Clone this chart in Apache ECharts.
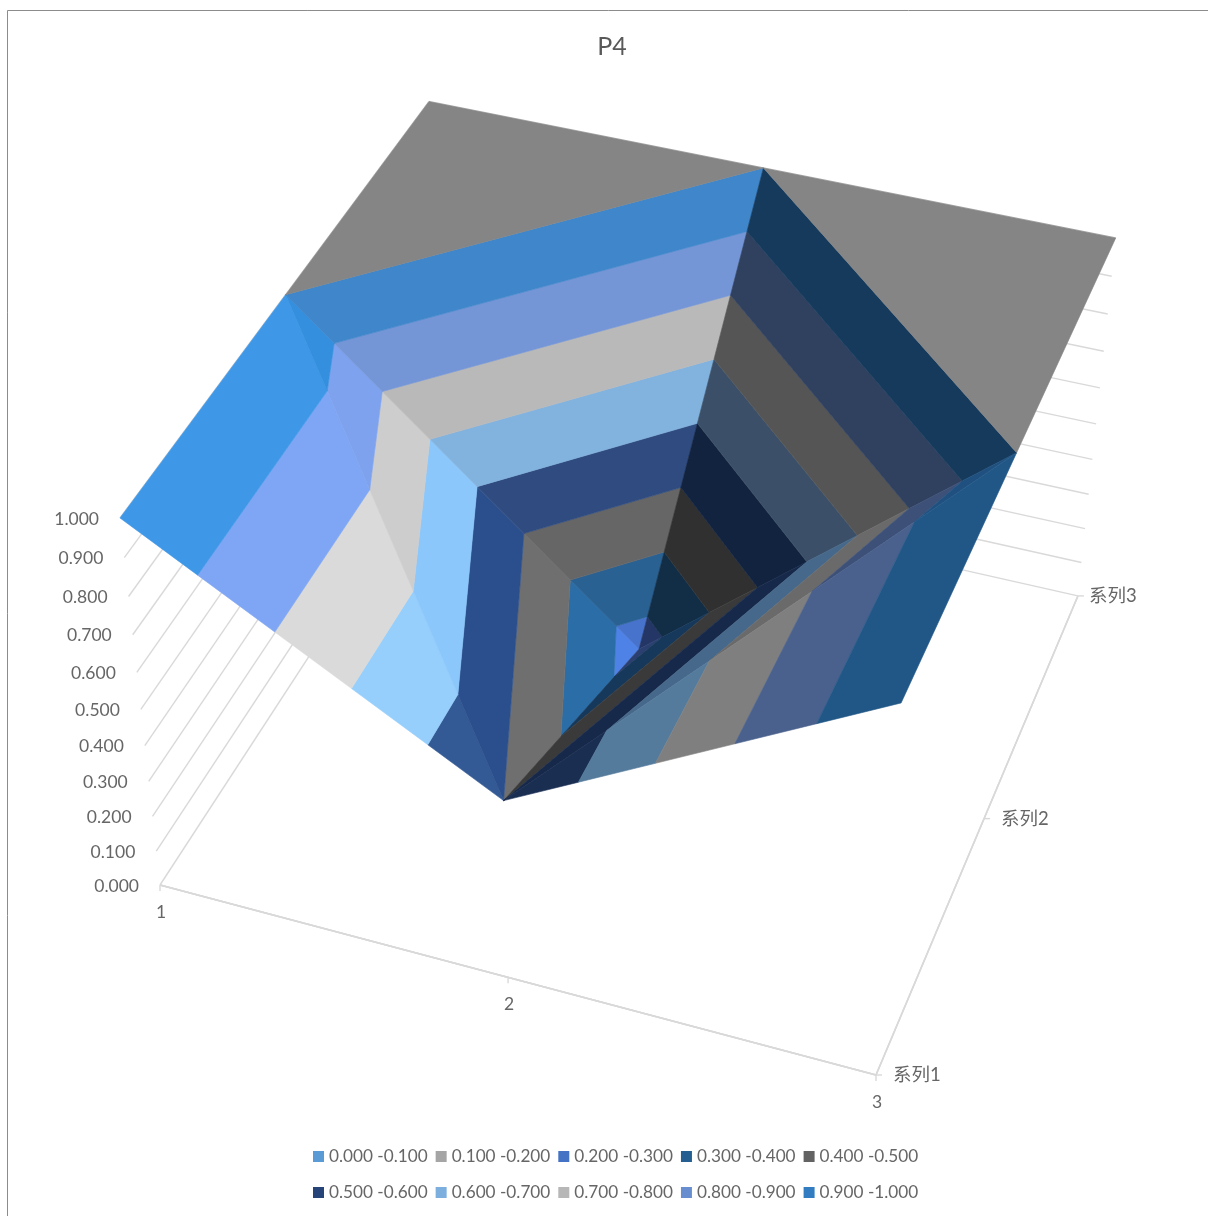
<!DOCTYPE html>
<html>
<head>
<meta charset="utf-8">
<title>P4</title>
<script src="https://cdn.jsdelivr.net/npm/echarts@6/dist/echarts.min.js"></script>
<style>
    html, body { margin: 0; padding: 0; background: #fff; }
    #chart { width: 1208px; height: 1216px; }
</style>
</head>
<body>
<div id="chart"></div>
<script>
// Data
const xCategories = ['1', '2', '3'];
const depthNames = ['系列1', '系列2', '系列3'];
const zTicks = ['0.000', '0.100', '0.200', '0.300', '0.400', '0.500', '0.600', '0.700', '0.800', '0.900', '1.000'];
const bandNames = ['0.000 -0.100', '0.100 -0.200', '0.200 -0.300', '0.300 -0.400', '0.400 -0.500',
    '0.500 -0.600', '0.600 -0.700', '0.700 -0.800', '0.800 -0.900', '0.900 -1.000'];
const series1Values = [1, 0.5, 1];
const series2Values = [1, 0.25, 1];
const series3Values = [1, 1, 1];
const surfaceRows = [series1Values, series2Values, series3Values];

// The surface is split into triangles the same way the source does it: [column, row]
const facets = [
    [[0, 0], [1, 0], [0, 1]],
    [[0, 1], [1, 0], [1, 1]],
    [[0, 1], [1, 1], [1, 2]],
    [[1, 2], [1, 1], [2, 1]],
    [[1, 0], [2, 1], [1, 1]],
    [[1, 0], [2, 0], [2, 1]],
    [[0, 1], [1, 2], [0, 2]],
    [[1, 2], [2, 2], [2, 1]],
];

// Styles: legend colour per band, then lit colour per facet and band
const legendColors = ['#5b9bd5', '#a5a5a5', '#4472c4', '#255e91', '#636363',
    '#264478', '#7cafdd', '#b7b7b7', '#698ed0', '#327dc2'];
const facetColors = [
    [null, null, null, null, null, '#345a96', '#96cffc', '#dadada', '#7fa6f4', '#3f97e8'],
    [null, null, '#4f82e6', '#2a6da7', '#6f6f6f', '#2b4f8c', '#8bc7fb', '#cdcdcd', '#7ea2ee', '#3490de'],
    [null, null, '#4873cd', '#2a6193', '#666666', '#2f4b80', '#82b2de', '#b9b9b9', '#7495d6', '#3f86ca'],
    [null, null, '#233665', '#122e46', '#303030', '#12233f', '#3b5068', '#555555', '#30415f', '#163a5c'],
    [null, null, '#2b4070', '#16385a', '#3a3a3a', '#16294a', '#46688a', '#6a6a6a', '#3d5078', '#1f5080'],
    [null, null, null, null, null, '#1a2e52', '#547b9c', '#7f7f7f', '#4a618d', '#215786'],
    [null, null, null, null, null, null, null, null, null, '#858585'],
    [null, null, null, null, null, null, null, null, null, '#858585'],
];
const labelColor = '#666666';
const gridColor = '#d9d9d9';
const labelFont = '17.5px Lato, "Noto Sans CJK SC", sans-serif';
const depthLabelFont = '18.5px Lato, "Noto Sans CJK SC", sans-serif';
const depthLabelGap = [17, 17, 11];

// Perspective camera: maps (u, v, z), each 0..1, to the page
const camera = {
    origin: [160, 885],
    u: [668.7, 131.95],
    v: [345.13, -368],
    z: [-49.8, -409.3],
    w: [-0.054, 0.143, -0.0816],
};

function project(u, v, z) {
    const w = 1 + camera.w[0] * u + camera.w[1] * v + camera.w[2] * z;
    return [
        (camera.origin[0] + camera.u[0] * u + camera.v[0] * v + camera.z[0] * z) / w,
        (camera.origin[1] + camera.u[1] * u + camera.v[1] * v + camera.z[1] * z) / w,
    ];
}

// Keep the part of a polygon on one side of a z level
function clipByZ(poly, level, keepAbove) {
    const out = [];
    poly.forEach((p, i) => {
        const q = poly[(i + 1) % poly.length];
        const pIn = keepAbove ? p[2] >= level : p[2] <= level;
        const qIn = keepAbove ? q[2] >= level : q[2] <= level;
        if (pIn) out.push(p);
        if (pIn !== qIn) {
            const t = (level - p[2]) / (q[2] - p[2]);
            out.push([p[0] + (q[0] - p[0]) * t, p[1] + (q[1] - p[1]) * t, level]);
        }
    });
    return out;
}

function facetVertices(facet) {
    return facet.map(([col, row]) => [col / (xCategories.length - 1), row / (depthNames.length - 1), surfaceRows[row][col]]);
}

function bandSeries(name, bandIndex) {
    const lo = bandIndex / bandNames.length;
    const hi = (bandIndex + 1) / bandNames.length;
    return {
        name,
        type: 'custom',
        coordinateSystem: 'none',
        silent: true,
        animation: false,
        z: 3,
        itemStyle: { color: legendColors[bandIndex] },
        data: facets.map((f, i) => i),
        renderItem: (params, api) => {
            const facetIndex = api.value(0);
            const fill = facetColors[facetIndex][bandIndex];
            const band = clipByZ(clipByZ(facetVertices(facets[facetIndex]), lo, true), hi, false);
            if (!fill || band.length < 3) return null;
            return {
                type: 'polygon',
                shape: { points: band.map((p) => project(p[0], p[1], p[2])) },
                style: { fill, stroke: fill, lineWidth: 0.6 },
            };
        },
    };
}

function line(from, to, width) {
    return {
        type: 'line',
        shape: { x1: from[0], y1: from[1], x2: to[0], y2: to[1] },
        style: { stroke: gridColor, lineWidth: width || 1.4 },
    };
}

function label(text, at, align, font) {
    return {
        type: 'text',
        style: { text, x: at[0], y: at[1], align, verticalAlign: 'middle', font: font || labelFont, fill: labelColor },
    };
}

// Value axis: wall lines plus its labels, painted under the surface
const zAxisSeries = {
    type: 'custom',
    coordinateSystem: 'none',
    silent: true,
    animation: false,
    z: 1,
    data: zTicks.map((t, i) => i),
    renderItem: (params, api) => {
        const i = api.value(0);
        const z = i / (zTicks.length - 1);
        const start = project(0, 0, z);
        return {
            type: 'group',
            children: [
                line(start, project(0, 1, z)),
                line(project(1, 1, z), project(0, 1, z)),
                label(zTicks[i], [start[0] - 21, start[1] + 1], 'right'),
            ],
        };
    },
};

const xAxisSeries = {
    type: 'custom',
    coordinateSystem: 'none',
    silent: true,
    animation: false,
    z: 2,
    data: xCategories.map((t, i) => i),
    renderItem: (params, api) => {
        const i = api.value(0);
        const at = project(i / (xCategories.length - 1), 0, 0);
        return {
            type: 'group',
            children: [
                line(project(0, 0, 0), project(1, 0, 0)),
                line(at, [at[0], at[1] + 6]),
                label(xCategories[i], [at[0] + 1, at[1] + 27], 'center'),
            ],
        };
    },
};

const depthAxisSeries = {
    type: 'custom',
    coordinateSystem: 'none',
    silent: true,
    animation: false,
    z: 2,
    data: depthNames.map((t, i) => i),
    renderItem: (params, api) => {
        const i = api.value(0);
        const at = project(1, i / (depthNames.length - 1), 0);
        return {
            type: 'group',
            children: [
                line(project(1, 0, 0), project(1, 1, 0)),
                line(at, [at[0] + 6, at[1]]),
                label(depthNames[i], [at[0] + depthLabelGap[i], at[1]], 'left', depthLabelFont),
            ],
        };
    },
};

const legendBase = {
    left: 313,
    padding: 0,
    orient: 'horizontal',
    icon: 'rect',
    itemWidth: 11,
    itemHeight: 11,
    itemGap: 8,
    selectedMode: false,
    textStyle: { color: labelColor, fontSize: 17.2, fontFamily: 'Lato, sans-serif' },
};

const chart = echarts.init(document.getElementById('chart'), null, { renderer: 'canvas' });
chart.setOption({
    backgroundColor: '#fff',
    animation: false,
    title: {
        text: 'P4',
        left: 612,
        top: 34,
        padding: 0,
        textAlign: 'center',
        textStyle: { color: '#595959', fontSize: 25, fontWeight: 'normal', fontFamily: 'Lato, sans-serif' },
    },
    legend: [
        { ...legendBase, top: 1148, data: bandNames.slice(0, 5) },
        { ...legendBase, top: 1184, data: bandNames.slice(5) },
    ],
    graphic: [{
        type: 'rect',
        silent: true,
        shape: { x: 7.5, y: 10.5, width: 1400, height: 1400 },
        style: { fill: 'none', stroke: '#8c8c8c', lineWidth: 1 },
    }],
    series: [zAxisSeries, xAxisSeries, depthAxisSeries, ...bandNames.map(bandSeries)],
});
</script>
</body>
</html>
